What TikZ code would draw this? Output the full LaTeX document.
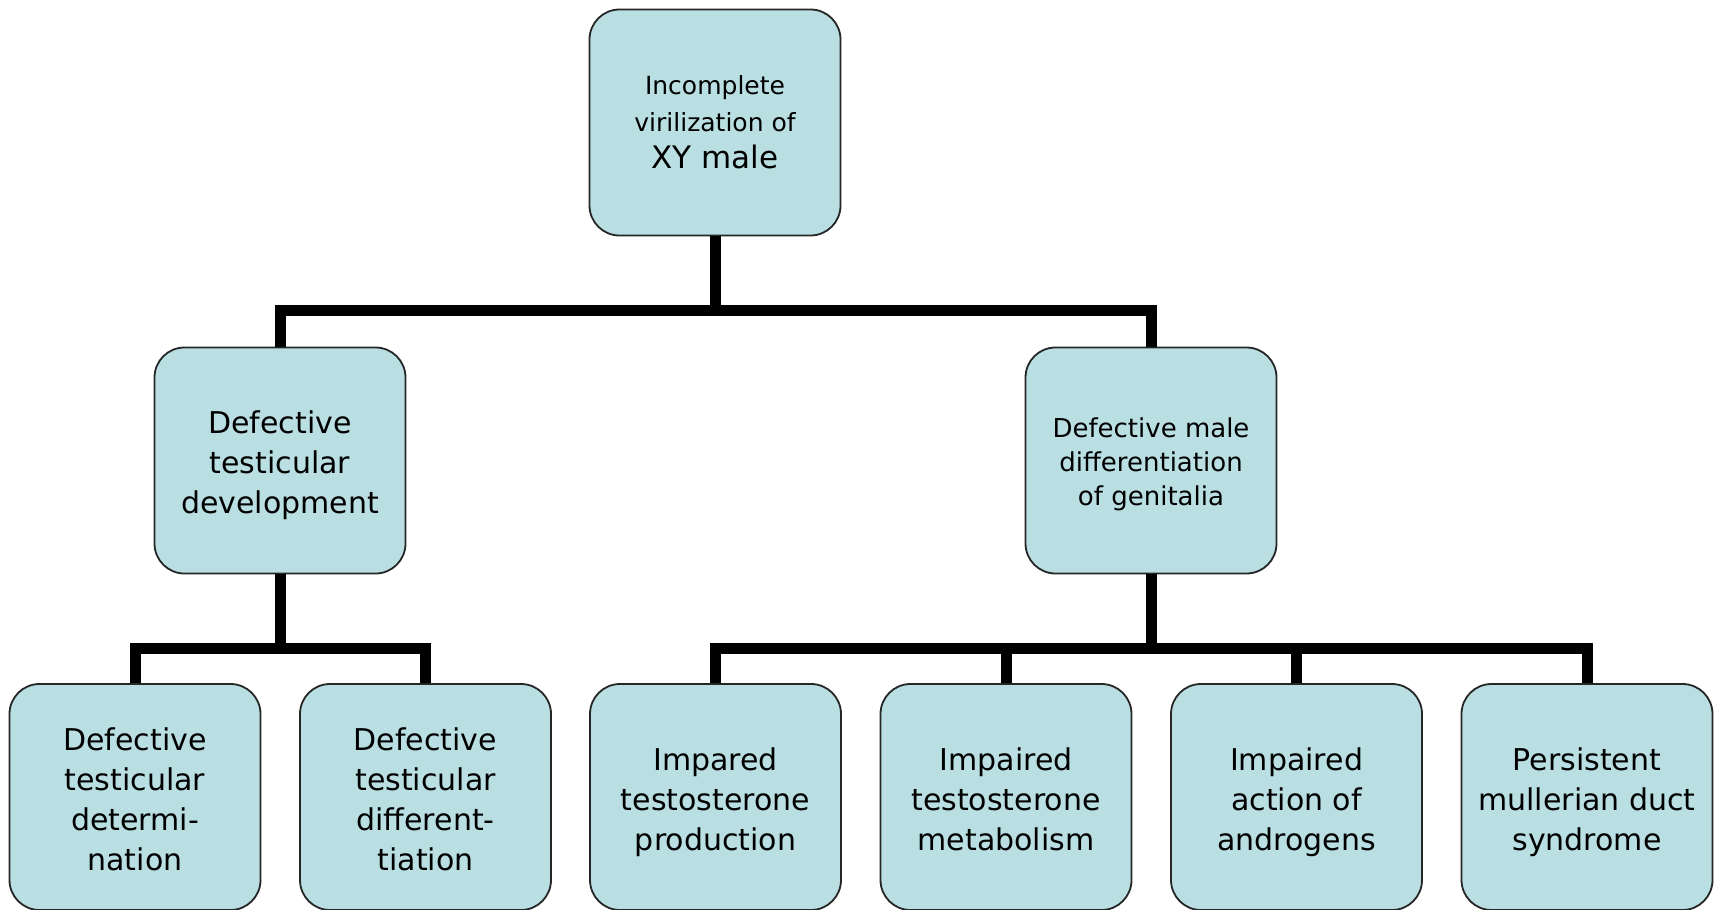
\documentclass[tikz,border=0pt]{standalone}
\usepackage{fontspec}
\setmainfont{DejaVu Sans}
\begin{document}
\begin{tikzpicture}[x=1pt,y=-1pt,
  box/.style={draw=black!85, line width=1.8pt, fill=boxfill, rounded corners=30pt,
    minimum width=251pt, minimum height=226pt, inner sep=0pt},
  txt/.style={align=center, text=black, inner sep=0pt, yshift=-5pt,
    execute at end node={\vphantom{p}}},
  bus/.style={line width=11pt, draw=black, line join=miter},
  big/.style={box, label={[txt, font=\fontsize{30}{40}\selectfont]center:{#1}}},
  small/.style={box, label={[txt, font=\fontsize{26}{34}\selectfont, yshift=1.5pt]center:{#1}}}]
\definecolor{boxfill}{HTML}{B9DFE3}
\useasboundingbox (0,0) rectangle (1721,910);
\fill[white] (0,0) rectangle (1721,910);
% nodes
\node[box, align=center, font=\fontsize{25}{37}\selectfont] (top) at (715,122.5) {Incomplete\\virilization of\\\fontsize{31}{38}\selectfont XY male};
\node[big={Defective\\testicular\\development}] (dev) at (280,460.5) {};
\node[small={Defective male\\differentiation\\of genitalia}] (diff) at (1151,460.5) {};
\node[big={Defective\\testicular\\determi-\\nation}] (c1) at (135,797) {};
\node[big={Defective\\testicular\\different-\\tiation}] (c2) at (425.5,797) {};
\node[big={Impared\\testosterone\\production}] (c3) at (715.5,797) {};
\node[big={Impaired\\testosterone\\metabolism}] (c4) at (1006,797) {};
\node[big={Impaired\\action of\\androgens}] (c5) at (1296.5,797) {};
\node[big={Persistent\\mullerian duct\\syndrome}] (c6) at (1587,797) {};
% junctions
\coordinate (j0) at (715,310);
\coordinate (j1) at (280,648);
\coordinate (j2) at (1151,648);
% connectors
\draw[bus] (top.south) -- (j0);
\draw[bus] (dev.north) |- (j0) -| (diff.north);
\draw[bus] (dev.south) -- (j1);
\draw[bus] (c1.north) |- (j1) -| (c2.north);
\draw[bus] (diff.south) -- (j2);
\draw[bus] (c3.north) |- (j2) -| (c6.north);
\draw[bus] (c4.north) -- (c4.north |- j2);
\draw[bus] (c5.north) -- (c5.north |- j2);
\end{tikzpicture}
\end{document}
